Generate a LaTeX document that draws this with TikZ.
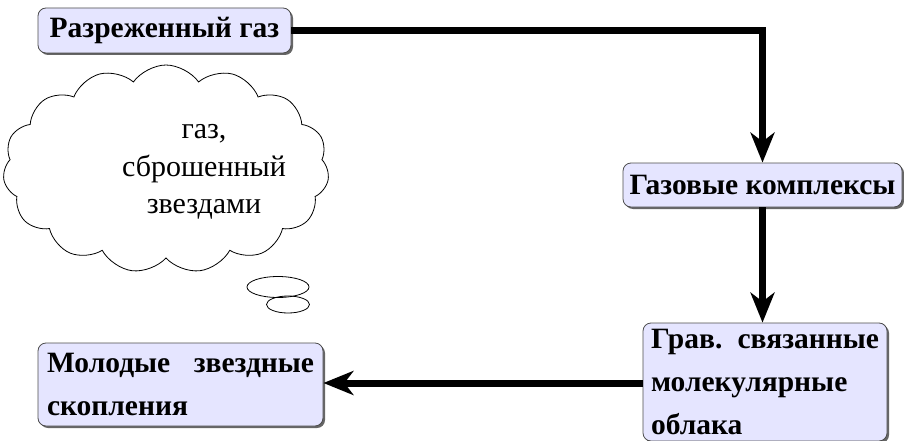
\documentclass[tikz,border=0pt]{standalone}
\usepackage{fontspec}
\setmainfont{Liberation Serif}
\usetikzlibrary{shapes.symbols,shapes.geometric,shadows,arrows.meta}
\begin{document}
\begin{tikzpicture}[x=1pt,y=-1pt,
  box/.style={draw=black!70,line width=0.8pt,rounded corners=8pt,fill=blue!10!white,
    drop shadow={shadow xshift=2pt,shadow yshift=-2pt,fill=black!60,opacity=1},
    inner sep=0pt,font=\bfseries\fontsize{29.5}{43}\selectfont},
  flow/.style={line width=7pt,-{Stealth[length=30pt,width=24pt,inset=9pt]}},
  bubble/.style={draw=black,line width=0.8pt}]
\useasboundingbox (0,0) rectangle (904,441);
\node[box,minimum width=253pt,minimum height=45pt] (n1) at (164.5,30.5) {Разреженный газ};
\node[box,minimum width=279pt,minimum height=44pt] (n2) at (762.5,185) {Газовые комплексы};
\node[box,minimum width=244pt,minimum height=118pt,text width=228pt,align=justify] (n3) at (765,382) {Грав. связанные молекулярные облака};
\node[box,minimum width=285pt,minimum height=83pt,text width=267pt,align=justify] (n4) at (180.5,384.5) {Молодые звездные скопления};
\node[cloud,cloud puffs=15,cloud puff arc=110,bubble,minimum width=326pt,minimum height=208pt,aspect=1.6] (cl) at (166,169) {};
\node[align=center,font=\fontsize{30}{37.5}\selectfont] (ct) at (204,172) {газ,\\сброшенный\\звездами};
\node[ellipse,bubble,minimum width=62pt,minimum height=21pt,inner sep=0pt] (e1) at (278,287) {};
\node[ellipse,bubble,minimum width=43pt,minimum height=17pt,inner sep=0pt] (e2) at (288,304.5) {};
\draw[flow] (n1.east) -| (n2.north);
\draw[flow] (n2.south) -- (n3.north -| n2.south);
\draw[flow] (n3.west |- 0,383) -- (n4.east |- 0,383);
\end{tikzpicture}
\end{document}
